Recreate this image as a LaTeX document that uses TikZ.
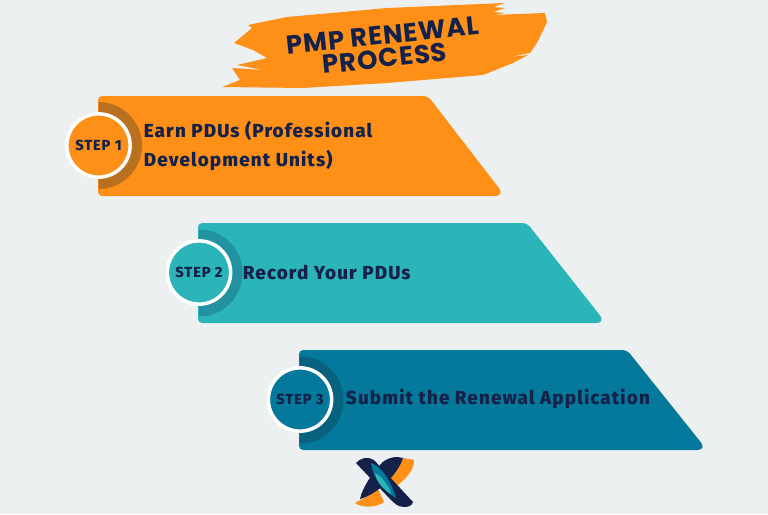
\documentclass[tikz,border=0pt]{standalone}
\usepackage{fontspec}
\setmainfont{Fira Sans}
\newfontfamily\headfont{Poppins}[UprightFont={* Bold},LetterSpace=3.5]
\newfontfamily\barfont{Fira Sans}[UprightFont={* ExtraBold},LetterSpace=6]
\definecolor{pagebg}{HTML}{ECF0F1}
\definecolor{inkblue}{HTML}{14224A}
\definecolor{stepone}{HTML}{FE8F17}
\definecolor{steptwo}{HTML}{2BB5B8}
\definecolor{stepthree}{HTML}{05799B}
\definecolor{stepone dark}{HTML}{B9701F}
\definecolor{steptwo dark}{HTML}{2292A0}
\definecolor{stepthree dark}{HTML}{08627F}
\tikzset{
  bartext/.style={text=inkblue,font=\barfont\fontsize{13.4}{20}\selectfont,align=left,anchor=west},
  steplabel/.style={circle,minimum size=45pt,inner sep=0pt,draw=white,line width=2.5pt,text=inkblue,font=\barfont\fontsize{10.4}{13}\selectfont},
  headtext/.style={text=inkblue,font=\headfont\fontsize{18.5}{19}\selectfont,rotate=6,inner sep=0pt,text height=9pt,text depth=0pt},
}
\begin{document}
\begin{tikzpicture}[x=0.025cm,y=-0.025cm]
\fill[pagebg] (0,0) rectangle (768,514);
% brush stroke
\fill[stepone] (234,43) -- (252,28) -- (248,25) -- (287,17) -- (387,8) -- (505,3) -- (493,7) -- (505,8) -- (493,12) -- (505,13) -- (493,15) -- (545,13) -- (547,22) -- (537,43) -- (530,53) -- (510,57) -- (528,55) -- (513,63) -- (483,75) -- (387,83) -- (303,88) -- (222,87) -- (240,80) -- (232,68) -- (263,70) -- (237,65) -- (267,58) -- (253,50) -- cycle;
% bars
\fill[stepone] [rounded corners=3pt] (98,96) -- (428,96) [rounded corners=7pt] -- (505,196) [rounded corners=3pt] -- (98,196) -- cycle;
\fill[steptwo] [rounded corners=3pt] (198,223) -- (527,223) [rounded corners=7pt] -- (606,323) [rounded corners=3pt] -- (198,323) -- cycle;
\fill[stepthree] [rounded corners=3pt] (299,350) -- (627,350) [rounded corners=7pt] -- (707,450) [rounded corners=3pt] -- (299,450) -- cycle;
% half rings
\fill[stepone dark] (98.5,102) arc[start angle=-90,end angle=90,radius=43.5];
\fill[steptwo dark] (199,229.5) arc[start angle=-90,end angle=90,radius=43.5];
\fill[stepthree dark] (300,356.5) arc[start angle=-90,end angle=90,radius=43.5];
% circles
\node[steplabel,fill=stepone] (step one) at (98.5,145.5) {STEP 1};
\node[steplabel,fill=steptwo] (step two) at (199,272.5) {STEP 2};
\node[steplabel,fill=stepthree] (step three) at (300,399.5) {STEP 3};
% texts
\node[bartext] (earn) at (139,146) {Earn PDUs (Professional\\Development Units)};
\node[bartext] (record) at (238,272) {Record Your PDUs};
\node[bartext] (submit) at (341,399) {Submit the Renewal Application};
\node[headtext] (head one) at (383,38) {PMP RENEWAL};
\node[headtext] (head two) at (385,61) {PROCESS};
% logo
\fill[stepone] (403,458) -- (414,460) .. controls (415,468) and (406,480) .. (395,487) -- (385,478) -- cycle;
\fill[stepone] (355,503) .. controls (362,508) and (376,508) .. (384,502) -- (378,489) .. controls (372,494) and (364,498) .. (355,503) -- cycle;
\fill[inkblue] (403,458) .. controls (397,456) and (390,457) .. (384,461) .. controls (374,470) and (362,488) .. (360,499) .. controls (378,494) and (398,474) .. (403,458) -- cycle;
\fill[inkblue] (356,463) .. controls (360,458) and (368,456) .. (374,460) -- (413,502) .. controls (412,506) and (408,507) .. (404,507) .. controls (398,507) and (394,503) .. (390,499) -- cycle;
\fill[stepthree] (371,463) .. controls (382,466) and (392,484) .. (396,498) .. controls (384,492) and (372,476) .. (371,463) -- cycle;
\fill[steptwo] (375,473) .. controls (382,476) and (390,488) .. (391,494) .. controls (384,490) and (376,482) .. (375,473) -- cycle;
\end{tikzpicture}
\end{document}
